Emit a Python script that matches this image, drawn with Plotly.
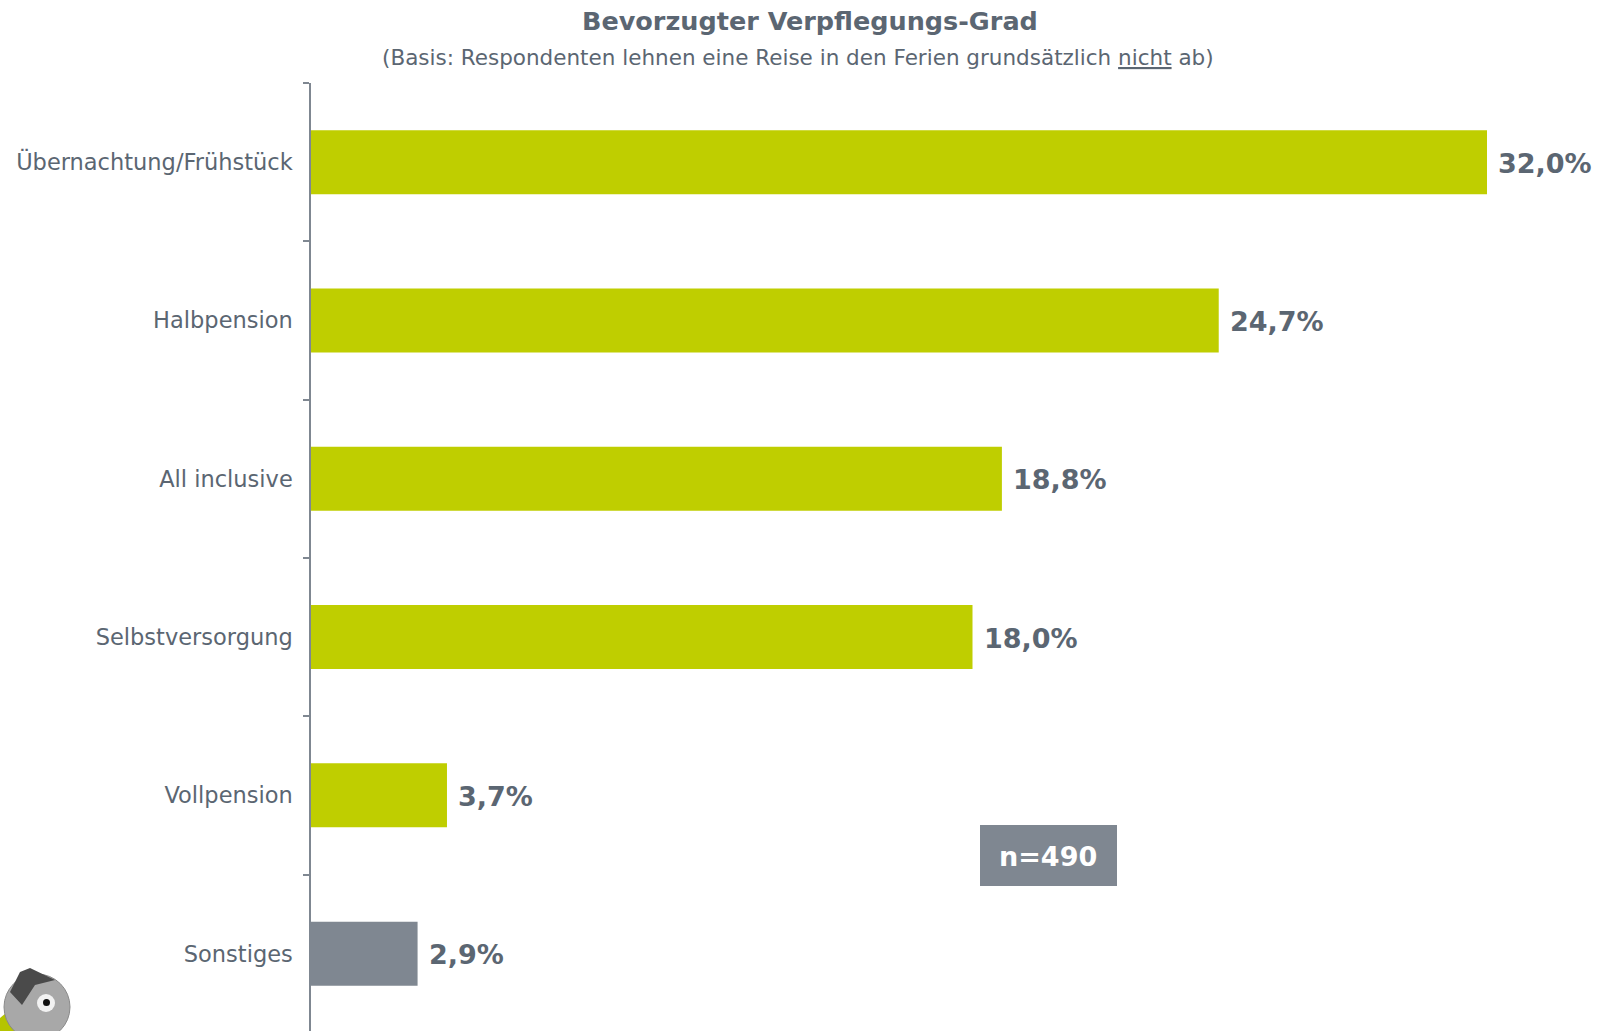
import plotly.graph_objects as go

# ---- data ----
categories = ["Übernachtung/Frühstück", "Halbpension", "All inclusive",
              "Selbstversorgung", "Vollpension", "Sonstiges"]
values = [32.0, 24.7, 18.8, 18.0, 3.7, 2.9]
bar_colors = ["#BFCE00", "#BFCE00", "#BFCE00", "#BFCE00", "#BFCE00", "#7F8791"]
title_text = "<b>Bevorzugter Verpflegungs-Grad</b>"
subtitle_text = "(Basis: Respondenten lehnen eine Reise in den Ferien grundsätzlich <u>nicht</u> ab)"
n_text = "n=490"

W, H = 1601, 1031
# plot area in window pixels
X0, X1, Y0, Y1 = 311, 1601, 83, 1031
L, R, T, B = X0, W - X1, Y0, H - Y1
PW, PH = X1 - X0, Y1 - Y0
CAT_PX = 158.3  # pixels per category band


def px(xp):
    return (xp - X0) / PW


def py(yp):
    return (Y1 - yp) / PH


TEXT = "#5B6672"
GREY = "#7F8791"

fig = go.Figure()
fig.add_trace(go.Bar(
    x=values, y=categories, orientation="h",
    marker=dict(color=bar_colors, line=dict(width=0)),
    hoverinfo="skip", showlegend=False,
))

annotations = []
for c, v in zip(categories, values):
    annotations.append(dict(
        x=v, y=c, xref="x", yref="y",
        text="<b>" + f"{v:.1f}".replace(".", ",") + "%</b>",
        showarrow=False, xanchor="left", yanchor="middle", xshift=9, yshift=-1,
        font=dict(family="DejaVu Sans", size=27, color=TEXT),
    ))

annotations.append(dict(
    x=px(810), y=py(21), xref="paper", yref="paper", text=title_text,
    showarrow=False, xanchor="center", yanchor="middle",
    font=dict(family="DejaVu Sans", size=25.5, color=TEXT),
))
annotations.append(dict(
    x=px(798), y=py(57), xref="paper", yref="paper", text=subtitle_text,
    showarrow=False, xanchor="center", yanchor="middle",
    font=dict(family="DejaVu Sans", size=21.5, color=TEXT),
))
annotations.append(dict(
    x=px(1048), y=py(856), xref="paper", yref="paper", text="<b>" + n_text + "</b>",
    showarrow=False, xanchor="center", yanchor="middle",
    font=dict(family="DejaVu Sans", size=27, color="white"),
))

shapes = [
    # n box
    dict(type="rect", xref="paper", yref="paper",
         x0=px(980), x1=px(1117), y0=py(886), y1=py(825),
         fillcolor=GREY, line=dict(width=0), layer="below"),
    # mascot (rough)
    dict(type="path", xref="paper", yref="paper",
         path=f"M {px(0)},{py(1018)} L {px(12)},{py(1008)} L {px(18)},{py(1031)} L {px(0)},{py(1031)} Z",
         fillcolor="#B5C400", line=dict(width=0)),
    dict(type="circle", xref="paper", yref="paper",
         x0=px(4), x1=px(70), y0=py(1040), y1=py(974),
         fillcolor="#A8A8A8", line=dict(color="#8A8A8A", width=1)),
    dict(type="path", xref="paper", yref="paper",
         path=f"M {px(10)},{py(992)} L {px(20)},{py(972)} L {px(30)},{py(968)} L {px(55)},{py(980)} L {px(35)},{py(985)} L {px(22)},{py(1005)} Z",
         fillcolor="#4A4A4A", line=dict(width=0)),
    dict(type="circle", xref="paper", yref="paper",
         x0=px(37), x1=px(55), y0=py(1012), y1=py(994),
         fillcolor="#F2F2F2", line=dict(width=0)),
    dict(type="circle", xref="paper", yref="paper",
         x0=px(43), x1=px(50), y0=py(1006), y1=py(999),
         fillcolor="#111111", line=dict(width=0)),
]

fig.update_layout(
    width=W, height=H,
    margin=dict(l=L, r=R, t=T, b=B, pad=0),
    paper_bgcolor="white", plot_bgcolor="white",
    bargap=0.596,
    xaxis=dict(range=[0, PW / 36.75], visible=False, fixedrange=True),
    yaxis=dict(
        categoryorder="array", categoryarray=categories,
        range=[-0.5 + PH / CAT_PX, -0.5],
        showline=True, linecolor=GREY, linewidth=1.5,
        ticks="outside", tickson="boundaries", ticklen=6, tickcolor=GREY, tickwidth=1.5,
        ticklabelstandoff=12,
        tickfont=dict(family="DejaVu Sans", size=22.5, color=TEXT),
        showgrid=False, zeroline=False, fixedrange=True,
    ),
    annotations=annotations,
    shapes=shapes,
    showlegend=False,
)

fig.write_html("out.html", config={"displayModeBar": False},
               post_script="document.body.style.margin='0';document.documentElement.style.overflow='hidden';")
